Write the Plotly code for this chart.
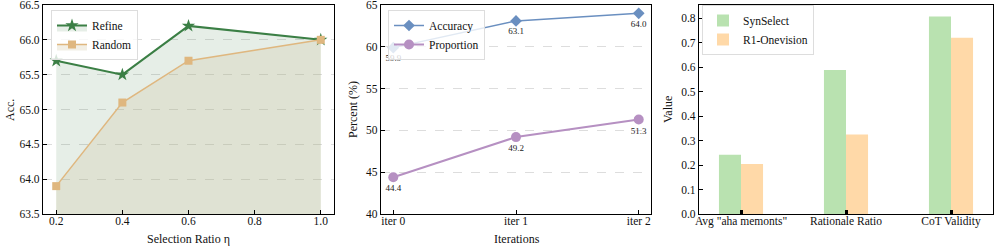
import plotly.graph_objects as go

# Panel 1 data
ratio = [0.2, 0.4, 0.6, 1.0]
refine = [65.7, 65.5, 66.2, 66.0]
random_sel = [63.9, 65.1, 65.7, 66.0]

# Panel 2 data
iters = ["iter 0", "iter 1", "iter 2"]
accuracy = [59.9, 63.1, 64.0]
proportion = [44.4, 49.2, 51.3]

# Panel 3 data
metrics = ['Avg "aha memonts"', "Rationale Ratio", "CoT Validity"]
synselect = [0.242, 0.589, 0.808]
r1_onevision = [0.205, 0.325, 0.721]

W, H = 997, 247
FONT = "Liberation Serif"

def xd(a, b):
    return [a / W, b / W]

ydom = [1 - 214 / H, 1 - 5 / H]

fig = go.Figure()

GREEN = "#3b7f45"
TAN = "#dfb77f"
BLUE = "#6a8fc0"
PURPLE = "#b690c2"

fig.add_trace(go.Scatter(x=ratio, y=refine, name="Refine", mode="lines+markers",
                         line=dict(color=GREEN, width=2), marker=dict(symbol="star", size=10, color=GREEN),
                         fill="tozeroy", fillcolor="rgba(59,127,69,0.13)", xaxis="x", yaxis="y", legend="legend"))
fig.add_trace(go.Scatter(x=ratio, y=random_sel, name="Random", mode="lines+markers",
                         line=dict(color=TAN, width=1.5), marker=dict(symbol="square", size=8, color=TAN),
                         fill="tozeroy", fillcolor="rgba(205,190,150,0.25)", xaxis="x", yaxis="y", legend="legend"))

fig.add_trace(go.Scatter(x=[0, 1, 2], y=accuracy, name="Accuracy", mode="lines+markers+text",
                         text=[f"{v:.1f}" for v in accuracy], textposition="bottom center",
                         textfont=dict(size=9, family=FONT, color="#222"),
                         line=dict(color=BLUE, width=1.5), marker=dict(symbol="diamond", size=9, color=BLUE),
                         xaxis="x2", yaxis="y2", legend="legend2"))
fig.add_trace(go.Scatter(x=[0, 1, 2], y=proportion, name="Proportion", mode="lines+markers+text",
                         text=[f"{v:.1f}" for v in proportion], textposition="bottom center",
                         textfont=dict(size=9, family=FONT, color="#222"),
                         line=dict(color=PURPLE, width=2), marker=dict(symbol="circle", size=10, color=PURPLE),
                         xaxis="x2", yaxis="y2", legend="legend2"))

fig.add_trace(go.Bar(x=[0, 1, 2], y=synselect, name="SynSelect", marker=dict(color="#b9e2b0", line=dict(width=0)),
                     width=0.21, offset=-0.21, xaxis="x3", yaxis="y3", legend="legend3"))
fig.add_trace(go.Bar(x=[0, 1, 2], y=r1_onevision, name="R1-Onevision", marker=dict(color="#ffd9a8", line=dict(width=0)),
                     width=0.21, offset=0, xaxis="x3", yaxis="y3", legend="legend3"))

TS = 11.5
axcommon = dict(showline=True, linecolor="black", linewidth=1.2, mirror=True, ticks="inside",
                ticklen=4, tickwidth=1, tickcolor="black", zeroline=False, ticklabeloverflow="allow",
                automargin=False, tickfont=dict(family=FONT, size=TS, color="#111"))
xextra = dict(ticklabelstandoff=-4)
gridy = dict(showgrid=True, gridcolor="#dddddd", griddash="dash", gridwidth=1)

title_font = dict(family=FONT, size=12, color="#111")
leg = dict(xanchor="left", yanchor="top", bgcolor="rgba(255,255,255,0.8)",
           bordercolor="#dddddd", borderwidth=1, font=dict(family=FONT, size=TS, color="#111"))

fig.update_layout(
    width=W, height=H, margin=dict(l=0, r=0, t=0, b=0, autoexpand=False),
    paper_bgcolor="white", plot_bgcolor="white", barmode="overlay",
    font=dict(family=FONT, size=TS, color="#111"),
    xaxis=dict(domain=xd(43, 334), range=[0.16, 1.04], tickvals=[0.2, 0.4, 0.6, 0.8, 1.0],
               ticktext=["0.2", "0.4", "0.6", "0.8", "1.0"], showgrid=False, anchor="y", **axcommon, **xextra),
    yaxis=dict(domain=ydom, range=[63.5, 66.5], dtick=0.5, tickformat=".1f", anchor="x", **axcommon, **gridy),
    xaxis2=dict(domain=xd(381, 651), range=[-0.1, 2.1], tickvals=[0, 1, 2], ticktext=iters, showgrid=False,
                anchor="y2", **axcommon, **xextra),
    yaxis2=dict(domain=ydom, range=[40, 65], dtick=5, anchor="x2", **axcommon, **gridy),
    xaxis3=dict(domain=xd(699, 993), range=[-0.4, 2.4], tickvals=[0, 1, 2], ticktext=metrics, showgrid=False,
                anchor="y3", **{**axcommon, "tickwidth": 2.5}, **xextra),
    yaxis3=dict(domain=ydom, range=[0, 0.855], dtick=0.1, tickformat=".1f", showgrid=False,
                anchor="x3", **axcommon),
    legend=dict(x=51 / W, y=1 - 10 / H, **leg),
    legend2=dict(x=388 / W, y=1 - 10 / H, **leg),
    legend3=dict(x=702 / W, y=1 - 5 / H, **leg),
)

titles = [
    ("Selection Ratio η", 188, 239, 0),
    ("Iterations", 517, 239, 0),
    ("Acc.", 10, 110, -90),
    ("Percent (%)", 353, 110, -90),
    ("Value", 668, 110, -90),
]
for txt, px, py, ang in titles:
    fig.add_annotation(text=txt, x=px / W, y=1 - py / H, xref="paper", yref="paper",
                       xanchor="center", yanchor="middle", showarrow=False, textangle=ang,
                       font=title_font)

fig.write_html("out.html", config={"displayModeBar": False},
               post_script="document.body.style.margin='0';document.body.style.overflow='hidden';")
